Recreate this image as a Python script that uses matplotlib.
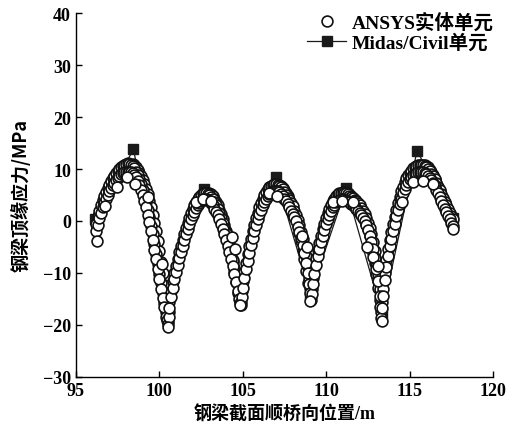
import matplotlib
matplotlib.use("Agg")
import matplotlib.pyplot as plt

plt.rcParams['font.family'] = ['Liberation Serif', 'Noto Sans CJK SC', 'DejaVu Sans']
plt.rcParams['font.weight'] = 'bold'

# ANSYS upper band curve (two interleaved readings)
upper_a_x = [96.2, 96.4, 96.6, 96.8, 97.0, 97.2, 97.4, 97.6, 97.8, 98.0, 98.2, 98.4, 98.6, 98.8, 99.0, 99.2, 99.4, 99.6, 99.8, 100.0, 100.2, 100.4, 100.5,
             100.6, 100.8, 101.0, 101.2, 101.4, 101.6, 101.8, 102.0, 102.2, 102.4, 102.6, 102.8, 103.0, 103.2, 103.4, 103.6, 103.8, 104.0, 104.2, 104.4, 104.6, 104.8, 104.9,
             105.0, 105.2, 105.4, 105.6, 105.8, 106.0, 106.2, 106.4, 106.6, 106.8, 107.0, 107.2, 107.4, 107.6, 107.8, 108.0, 108.2, 108.4, 108.6, 108.8, 109.0, 109.1,
             109.2, 109.4, 109.6, 109.8, 110.0, 110.2, 110.4, 110.6, 110.8, 111.0, 111.2, 111.4, 111.6, 111.8, 112.0, 112.2, 112.4, 112.6, 112.8, 113.0, 113.2, 113.3,
             113.4, 113.6, 113.8, 114.0, 114.2, 114.4, 114.6, 114.8, 115.0, 115.2, 115.4, 115.6, 115.8, 116.0, 116.2, 116.4, 116.6, 116.8, 117.0, 117.2, 117.4, 117.6]
upper_a_y = [-0.5, 2.0, 4.0, 5.6, 7.0, 8.2, 9.2, 10.0, 10.6, 11.0, 11.0, 10.6, 9.5, 8.0, 6.0, 3.6, 0.8, -2.6, -6.4, -10.2, -13.8, -17.6, -19.2,
             -15.5, -11.5, -8.6, -6.0, -3.6, -1.4, 0.6, 2.3, 3.7, 4.7, 5.3, 5.4, 5.0, 4.2, 3.0, 1.5, -0.3, -2.4, -4.8, -7.5, -10.5, -14.0, -15.5,
             -11.5, -8.0, -4.8, -2.0, 0.5, 2.6, 4.3, 5.6, 6.5, 7.0, 7.1, 6.8, 6.1, 5.0, 4.0, 2.8, 1.2, -0.8, -3.4, -6.8, -11.0, -14.5,
             -11.0, -7.2, -4.2, -1.6, 0.6, 2.4, 3.8, 4.8, 5.3, 5.5, 5.3, 4.8, 4.4, 3.8, 3.0, 2.0, 0.6, -1.4, -4.0, -7.8, -13.0, -17.5,
             -13.0, -7.5, -3.6, -0.6, 2.2, 4.6, 6.6, 8.2, 9.3, 10.1, 10.6, 10.8, 10.7, 10.3, 9.6, 8.6, 7.3, 5.9, 4.4, 3.0, 1.6, 0.3]

mid_x = [96.3, 96.5, 96.7, 96.9, 97.1, 97.3, 97.5, 97.7, 97.9, 98.1, 98.3, 98.5, 98.7, 98.9, 99.1, 99.3, 99.5, 99.7, 99.9, 100.1, 100.3, 100.45,
         100.55, 100.7, 100.9, 101.1, 101.3, 101.5, 101.7, 101.9, 102.1, 102.3, 102.5, 102.7, 102.9, 103.1, 103.3, 103.5, 103.7, 103.9, 104.1, 104.3, 104.5, 104.7, 104.85,
         104.95, 105.1, 105.3, 105.5, 105.7, 105.9, 106.1, 106.3, 106.5, 106.7, 106.9, 107.1, 107.3, 107.5, 107.7, 107.9, 108.1, 108.3, 108.5, 108.7, 108.9, 109.05,
         109.15, 109.3, 109.5, 109.7, 109.9, 110.1, 110.3, 110.5, 110.7, 110.9, 111.1, 111.3, 111.5, 111.7, 111.9, 112.1, 112.3, 112.5, 112.7, 112.9, 113.1, 113.25,
         113.35, 113.5, 113.7, 113.9, 114.1, 114.3, 114.5, 114.7, 114.9, 115.1, 115.3, 115.5, 115.7, 115.9, 116.1, 116.3, 116.5, 116.7, 116.9, 117.1, 117.3, 117.5]
upper_b_y = [0.9, 3.1, 4.9, 6.3, 7.6, 8.7, 9.6, 10.3, 10.8, 11.1, 10.8, 10.1, 8.8, 7.1, 4.8, 2.2, -0.9, -4.5, -8.3, -12.0, -15.7, -18.5,
             -17.5, -13.4, -10.0, -7.3, -4.8, -2.5, -0.4, 1.5, 3.0, 4.2, 5.0, 5.4, 5.2, 4.6, 3.6, 2.3, 0.6, -1.3, -3.6, -6.1, -9.0, -12.2, -14.8,
             -13.5, -9.8, -6.4, -3.4, -0.8, 1.6, 3.5, 5.0, 6.1, 6.8, 7.1, 7.0, 6.5, 5.6, 4.5, 3.4, 2.0, 0.2, -2.1, -5.0, -8.8, -12.8,
             -13.0, -9.0, -5.6, -2.9, -0.5, 1.5, 3.1, 4.3, 5.1, 5.4, 5.4, 5.1, 4.6, 4.1, 3.4, 2.5, 1.3, -0.4, -2.6, -5.8, -10.2, -15.2,
             -15.5, -10.0, -5.4, -2.1, 0.8, 3.4, 5.7, 7.5, 8.8, 9.7, 10.4, 10.7, 10.8, 10.5, 10.0, 9.1, 8.0, 6.6, 5.1, 3.7, 2.3, 0.9]

# ANSYS lower band curve (two interleaved readings)
lower_a_y = [-2.0, 0.5, 2.6, 4.3, 5.7, 6.9, 7.9, 8.7, 9.2, 9.5, 9.5, 9.2, 8.4, 7.0, 5.0, 2.6, -0.2, -3.6, -7.4, -11.2, -14.8, -18.4, -19.8,
             -16.8, -12.8, -9.8, -7.2, -4.8, -2.6, -0.6, 1.1, 2.5, 3.5, 4.1, 4.2, 3.8, 3.0, 1.8, 0.3, -1.5, -3.6, -6.0, -8.7, -11.7, -15.0, -16.2,
             -12.8, -9.3, -6.1, -3.3, -0.8, 1.3, 3.0, 4.3, 5.2, 5.7, 5.8, 5.5, 4.8, 3.8, 2.6, 1.4, -0.1, -2.1, -4.6, -8.0, -12.2, -15.2,
             -12.2, -8.4, -5.4, -2.8, -0.6, 1.2, 2.6, 3.6, 4.1, 4.3, 4.1, 3.6, 3.0, 2.4, 1.6, 0.6, -0.8, -2.8, -5.4, -9.2, -14.4, -18.6,
             -14.4, -8.8, -4.9, -1.9, 0.9, 3.3, 5.3, 6.9, 8.0, 8.8, 9.3, 9.5, 9.4, 9.0, 8.3, 7.3, 6.0, 4.6, 3.1, 1.7, 0.3, -1.0]
lower_b_y = [-0.7, 1.6, 3.5, 5.0, 6.3, 7.4, 8.3, 9.0, 9.4, 9.5, 9.4, 8.8, 7.7, 6.0, 3.8, 1.2, -1.9, -5.5, -9.3, -13.0, -16.6, -19.1,
             -18.5, -14.6, -11.2, -8.5, -6.0, -3.7, -1.6, 0.3, 1.8, 3.0, 3.8, 4.2, 4.0, 3.4, 2.4, 1.1, -0.6, -2.5, -4.8, -7.3, -10.2, -13.4, -15.8,
             -14.6, -11.0, -7.7, -4.7, -2.0, 0.3, 2.2, 3.7, 4.8, 5.5, 5.8, 5.7, 5.2, 4.3, 3.2, 2.0, 0.7, -1.1, -3.3, -6.2, -10.0, -13.8,
             -14.0, -10.2, -6.8, -4.1, -1.7, 0.3, 1.9, 3.1, 3.9, 4.2, 4.2, 3.9, 3.3, 2.7, 2.0, 1.1, -0.1, -1.8, -4.0, -7.2, -11.6, -16.6,
             -16.8, -11.4, -6.7, -3.4, -0.5, 2.1, 4.3, 6.2, 7.5, 8.4, 9.1, 9.4, 9.5, 9.2, 8.7, 7.8, 6.7, 5.3, 3.9, 2.4, 1.0, -0.3]

# ANSYS outer readings on the descending branches
outer_x = [98.4, 98.5, 98.6, 98.7, 98.8, 98.9, 99.0, 99.1, 99.2, 99.3, 99.4, 99.5, 99.6, 99.7, 99.8, 99.9, 100.0, 100.1, 100.2, 100.3, 100.4,
           103.0, 103.1, 103.2, 103.3, 103.4, 103.5, 103.6, 103.7, 103.8, 103.9, 104.0, 104.1, 104.2, 104.3, 104.4, 104.5, 104.6, 104.7,
           107.2, 107.3, 107.4, 107.5, 107.6, 107.7, 107.8, 107.9, 108.0, 108.1, 108.2, 108.3, 108.4, 108.5, 108.6, 108.7, 108.8, 108.9,
           111.3, 111.4, 111.5, 111.6, 111.7, 111.8, 111.9, 112.0, 112.1, 112.2, 112.3, 112.4, 112.5, 112.6, 112.7, 112.8, 112.9, 113.0, 113.1,
           115.9, 116.0, 116.1, 116.2, 116.3, 116.4, 116.5, 116.6, 116.7, 116.8, 116.9, 117.0, 117.1, 117.2, 117.3, 117.4, 117.5]
outer_y = [10.9, 10.7, 10.3, 9.9, 9.3, 8.7, 7.9, 7.1, 6.1, 5.1, 3.9, 2.6, 1.2, -0.3, -2.0, -3.8, -5.8, -7.8, -10.0, -12.4, -15.0,
           5.3, 5.1, 4.8, 4.3, 3.7, 3.0, 2.2, 1.3, 0.3, -0.8, -2.0, -3.3, -4.7, -6.2, -7.9, -9.8, -11.8, -13.9,
           7.0, 6.8, 6.4, 6.0, 5.4, 4.8, 4.1, 3.3, 2.4, 1.4, 0.3, -0.9, -2.3, -3.8, -5.5, -7.4, -9.6, -12.0,
           5.3, 5.1, 4.8, 4.5, 4.1, 3.7, 3.2, 2.6, 2.0, 1.3, 0.5, -0.5, -1.6, -2.9, -4.4, -6.1, -8.0, -10.2, -12.8,
           10.8, 10.6, 10.3, 9.9, 9.4, 8.8, 8.1, 7.4, 6.6, 5.8, 5.0, 4.2, 3.4, 2.6, 1.8, 1.1, 0.4]

# ANSYS scattered lower points
ansys3_x = [96.26, 96.74, 97.46, 98.06, 98.54, 99.3, 100.16, 100.5,
            102.2, 102.6, 103.1, 104.35, 104.53, 104.85,
            106.6, 107.05, 108.55, 108.85, 109.05,
            110.4, 110.95, 111.6, 112.45, 112.8, 113.1, 113.35,
            114.55, 115.2, 115.8, 116.4, 117.6]
ansys3_y = [-3.8, 2.9, 6.5, 8.5, 7.1, 4.6, -8.3, -20.4,
            3.6, 4.2, 3.8, -3.1, -5.4, -16.2,
            5.4, 4.8, -2.9, -5.0, -15.4,
            3.7, 3.8, 3.7, -5.0, -6.9, -8.7, -19.2,
            3.7, 7.5, 7.7, 7.1, -1.5]

# Midas/Civil
midas_x = [96.15, 98.45, 100.45, 102.7, 104.85, 107.0, 109.05, 111.2, 113.35, 115.45, 117.6]
midas_y = [0.3, 13.8, -18.7, 6.1, -14.0, 8.4, -14.1, 6.3, -17.9, 13.5, 0.5]

xticks = [95, 100, 105, 110, 115, 120]
yticks = [-30, -20, -10, 0, 10, 20, 30, 40]


def merged(xa, ya, xb, yb):
    pts = sorted(zip(list(xa) + list(xb), list(ya) + list(yb)))
    return [p[0] for p in pts], [p[1] for p in pts]


fig = plt.figure(figsize=(5.2, 4.27), dpi=100)
ax = fig.add_axes([0.146, 0.115, 0.802, 0.852])

ax.plot(midas_x, midas_y, color='#1a1a1a', lw=0.9, marker='s', ms=7.5,
        mfc='#1a1a1a', mec='#1a1a1a', zorder=2, label='Midas/Civil单元')
circ = dict(ls='none', marker='o', ms=7.8, mfc='white', mec='#111111', mew=1.2)
ux, uy = merged(upper_a_x, upper_a_y, mid_x, upper_b_y)
lx, ly = merged(upper_a_x, lower_a_y, mid_x, lower_b_y)
ax.plot(outer_x, outer_y, zorder=3, **circ)
ax.plot(ux, uy, zorder=3, **circ)
ax.plot(lx, ly, zorder=3, **circ)
ax.plot(ansys3_x, ansys3_y, zorder=3, label='ANSYS实体单元', **circ)

ax.set_xlim(95, 120)
ax.set_ylim(-30, 40)
ax.set_xticks(xticks)
ax.set_yticks(yticks)
ax.spines['top'].set_visible(False)
ax.spines['right'].set_visible(False)
for s in ('left', 'bottom'):
    ax.spines[s].set_linewidth(1.0)
ax.tick_params(direction='in', length=4, width=1.0, labelsize=13)
for lab in ax.get_xticklabels() + ax.get_yticklabels():
    lab.set_fontweight('bold')

ax.set_xlabel('钢梁截面顺桥向位置/m', fontsize=13, fontweight='bold', labelpad=4)
ax.set_ylabel('钢梁顶缘应力/MPa', fontsize=13, fontweight='bold', labelpad=9,
              family=['Noto Sans CJK SC', 'DejaVu Sans'])

h, l = ax.get_legend_handles_labels()
leg = ax.legend(h[::-1], l[::-1], loc='upper right', bbox_to_anchor=(1.03, 1.035),
                frameon=False, fontsize=14, handlelength=2.0, handletextpad=0.3,
                labelspacing=0.1, borderaxespad=0.2)
for t in leg.get_texts():
    t.set_fontweight('bold')

fig.savefig('out.png', dpi=100)
